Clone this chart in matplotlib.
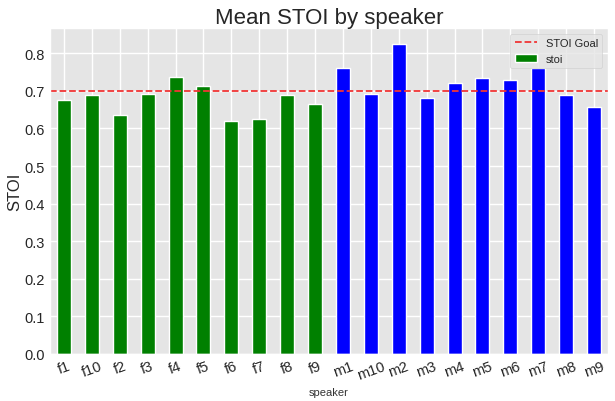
import matplotlib
matplotlib.use("Agg")
import matplotlib.pyplot as plt
import pandas as pd

# mean STOI per speaker
speakers = ['f1', 'f10', 'f2', 'f3', 'f4', 'f5', 'f6', 'f7', 'f8', 'f9',
            'm1', 'm10', 'm2', 'm3', 'm4', 'm5', 'm6', 'm7', 'm8', 'm9']
stoi = [0.677, 0.688, 0.637, 0.693, 0.736, 0.712, 0.621, 0.626, 0.690, 0.664,
        0.760, 0.693, 0.826, 0.680, 0.722, 0.733, 0.730, 0.760, 0.690, 0.658]
goal = 0.7

df = pd.DataFrame({'stoi': stoi}, index=pd.Index(speakers, name='speaker'))
colors = ['green' if s.startswith('f') else 'blue' for s in speakers]

plt.style.use('ggplot')
plt.rcParams['font.family'] = ['Liberation Sans', 'DejaVu Sans']

fig = plt.figure(figsize=(6.15, 4.02), dpi=100)
ax = fig.add_axes([50 / 615, 47 / 402, 558 / 615, 326 / 402])

df['stoi'].plot(kind='bar', ax=ax, color=colors, edgecolor='white', linewidth=1,
                label='stoi', rot=20)
ax.axhline(goal, color='#f03535', linestyle='--', linewidth=1.3, label='STOI Goal')

ax.set_title('Mean STOI by speaker', fontsize=16, color='#262626', pad=1.5)
ax.set_ylabel('STOI', fontsize=12, color='#262626', labelpad=2)
ax.set_xlabel('speaker', fontsize=8, color='#333333')
ax.tick_params(axis='x', labelsize=10.5, colors='#262626', length=0)
ax.tick_params(axis='y', labelsize=10.5, colors='#262626', length=0)
ax.set_yticks([0.0, 0.1, 0.2, 0.3, 0.4, 0.5, 0.6, 0.7, 0.8])
ax.grid(True, color='white', linewidth=1)
ax.set_axisbelow(True)

leg = ax.legend(fontsize=8, loc='upper right', frameon=True)
leg.get_frame().set_facecolor('#e5e5e5')
leg.get_frame().set_edgecolor('#cccccc')
for t in leg.get_texts():
    t.set_color('#262626')

fig.savefig('out.png', dpi=100)
